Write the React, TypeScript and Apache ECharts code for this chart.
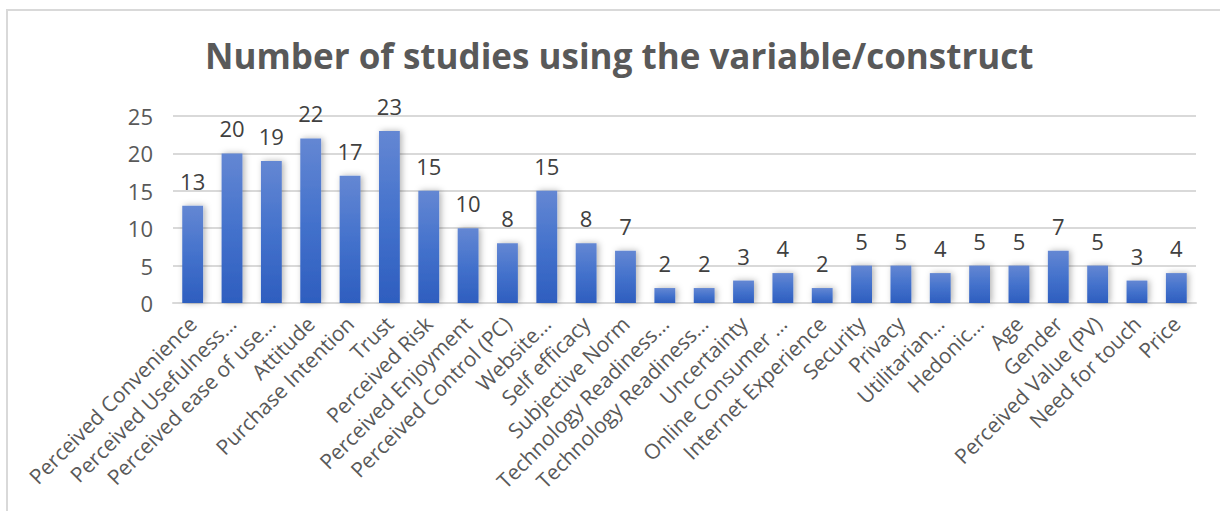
import React, { useEffect, useRef } from "react";
import * as echarts from "echarts";

const categories: string[] = [
  "Perceived Convenience",
  "Perceived Usefulness…",
  "Perceived ease of use…",
  "Attitude",
  "Purchase Intention",
  "Trust",
  "Perceived Risk",
  "Perceived Enjoyment",
  "Perceived Control (PC)",
  "Website…",
  "Self efficacy",
  "Subjective Norm",
  "Technology Readiness…",
  "Technology Readiness…",
  "Uncertainty",
  "Online Consumer …",
  "Internet Experience",
  "Security",
  "Privacy",
  "Utilitarian…",
  "Hedonic…",
  "Age",
  "Gender",
  "Perceived Value (PV)",
  "Need for touch",
  "Price",
];

const studies: number[] = [13, 20, 19, 22, 17, 23, 15, 10, 8, 15, 8, 7, 2, 2, 3, 4, 2, 5, 5, 4, 5, 5, 7, 5, 3, 4];

const yTicks = { min: 0, max: 25, interval: 5 };

const titleText = "Number of studies using the variable/construct";

export default function App() {
  const ref = useRef<HTMLDivElement>(null);
  useEffect(() => {
    document.body.style.margin = "0";
    if (!ref.current) return;
    const chart = echarts.init(ref.current, null, { renderer: "svg" });
    chart.setOption({
      animation: false,
      backgroundColor: "#ffffff",
      title: {
        text: titleText,
        left: 200,
        top: 33,
        textStyle: {
          fontFamily: "Open Sans",
          fontWeight: "bold",
          fontSize: 35,
          color: "#595959",
        },
      },
      graphic: [
        {
          type: "rect",
          shape: { x: 7, y: 10, width: 1230, height: 520 },
          style: { fill: "none", stroke: "#d9d9d9", lineWidth: 2 },
          silent: true,
        },
      ],
      grid: { left: 173, right: 24, top: 116, bottom: 208 },
      xAxis: {
        type: "category",
        data: categories,
        axisTick: { show: false },
        axisLine: { show: true, lineStyle: { color: "#d9d9d9", width: 2 } },
        axisLabel: {
          interval: 0,
          rotate: 45,
          margin: 17,
          fontFamily: "Open Sans",
          fontSize: 21,
          color: "#595959",
        },
      },
      yAxis: {
        type: "value",
        min: yTicks.min,
        max: yTicks.max,
        interval: yTicks.interval,
        axisLine: { show: false },
        axisTick: { show: false },
        splitLine: { lineStyle: { color: "#d9d9d9", width: 2 } },
        axisLabel: {
          margin: 20,
          fontFamily: "Open Sans",
          fontSize: 22,
          color: "#595959",
        },
      },
      series: [
        {
          type: "bar",
          data: studies,
          barCategoryGap: "47%",
          itemStyle: {
            color: new echarts.graphic.LinearGradient(0, 0, 0, 1, [
              { offset: 0, color: "#6487d3" },
              { offset: 0.5, color: "#4472cc" },
              { offset: 1, color: "#2e5ebf" },
            ]),
            shadowColor: "rgba(0,0,0,0.3)",
            shadowBlur: 6,
            shadowOffsetX: 2,
            shadowOffsetY: 0,
          },
          label: {
            show: true,
            position: "top",
            distance: 14,
            fontFamily: "Open Sans",
            fontSize: 22,
            color: "#404040",
          },
        },
      ],
    });
    return () => chart.dispose();
  }, []);
  return <div ref={ref} style={{ width: 1220, height: 511 }} />;
}
